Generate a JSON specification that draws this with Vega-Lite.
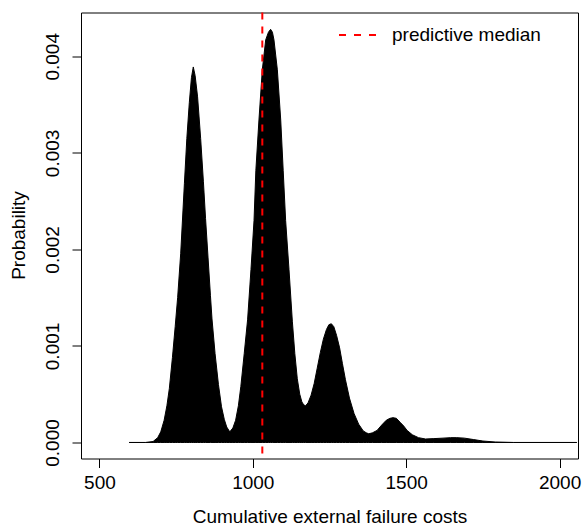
{
  "$schema": "https://vega.github.io/schema/vega-lite/v6.json",
  "width": 497,
  "height": 446,
  "autosize": {"type": "none"},
  "padding": {"left": 81, "top": 12.5, "right": 4, "bottom": 66.5},
  "background": "white",
  "config": {
    "view": {"stroke": "black", "strokeWidth": 1},
    "font": "Liberation Sans",
    "axis": {
      "domain": false,
      "grid": false,
      "tickColor": "black",
      "tickSize": 9,
      "labelFontSize": 19,
      "labelColor": "black",
      "titleFontSize": 19,
      "titleFontWeight": "normal",
      "titleColor": "black",
      "labelFlush": false,
      "labelOverlap": false
    }
  },
  "layer": [
    {
      "data": {
        "values": [
          {"cost": 597, "prob": 0},
          {"cost": 650, "prob": 0},
          {"cost": 675, "prob": 0.00001},
          {"cost": 690, "prob": 0.00005},
          {"cost": 700, "prob": 0.00011},
          {"cost": 711, "prob": 0.00023},
          {"cost": 720, "prob": 0.00038},
          {"cost": 728, "prob": 0.00056},
          {"cost": 738, "prob": 0.00088},
          {"cost": 747, "prob": 0.0012},
          {"cost": 755, "prob": 0.0015},
          {"cost": 765, "prob": 0.00196},
          {"cost": 777, "prob": 0.00268},
          {"cost": 785, "prob": 0.00315},
          {"cost": 793, "prob": 0.00352},
          {"cost": 800, "prob": 0.00378},
          {"cost": 806, "prob": 0.00389},
          {"cost": 812, "prob": 0.0038},
          {"cost": 820, "prob": 0.00358},
          {"cost": 830, "prob": 0.00315},
          {"cost": 839, "prob": 0.0027},
          {"cost": 846, "prob": 0.00232},
          {"cost": 854, "prob": 0.00192},
          {"cost": 862, "prob": 0.00152},
          {"cost": 867, "prob": 0.00128},
          {"cost": 877, "prob": 0.00092},
          {"cost": 888, "prob": 0.0006},
          {"cost": 898, "prob": 0.00037},
          {"cost": 907, "prob": 0.00024},
          {"cost": 915, "prob": 0.00016},
          {"cost": 925, "prob": 0.00011},
          {"cost": 935, "prob": 0.00015},
          {"cost": 944, "prob": 0.00023},
          {"cost": 953, "prob": 0.00038},
          {"cost": 961, "prob": 0.00058},
          {"cost": 972, "prob": 0.00092},
          {"cost": 983, "prob": 0.00127},
          {"cost": 994, "prob": 0.00179},
          {"cost": 1004, "prob": 0.0023},
          {"cost": 1010, "prob": 0.00282},
          {"cost": 1020, "prob": 0.00334},
          {"cost": 1031, "prob": 0.00386},
          {"cost": 1042, "prob": 0.00417},
          {"cost": 1051, "prob": 0.00425},
          {"cost": 1058, "prob": 0.00428},
          {"cost": 1064, "prob": 0.00425},
          {"cost": 1069, "prob": 0.00417},
          {"cost": 1080, "prob": 0.00386},
          {"cost": 1091, "prob": 0.00334},
          {"cost": 1099, "prob": 0.00282},
          {"cost": 1107, "prob": 0.0023},
          {"cost": 1118, "prob": 0.00179},
          {"cost": 1129, "prob": 0.00125},
          {"cost": 1137, "prob": 0.00092},
          {"cost": 1145, "prob": 0.00066},
          {"cost": 1153, "prob": 0.0005},
          {"cost": 1160, "prob": 0.00042},
          {"cost": 1166, "prob": 0.00039},
          {"cost": 1172, "prob": 0.00038},
          {"cost": 1180, "prob": 0.00041},
          {"cost": 1190, "prob": 0.00049},
          {"cost": 1200, "prob": 0.00061},
          {"cost": 1210, "prob": 0.00077},
          {"cost": 1220, "prob": 0.00093},
          {"cost": 1230, "prob": 0.00107},
          {"cost": 1240, "prob": 0.00117},
          {"cost": 1248, "prob": 0.00122},
          {"cost": 1256, "prob": 0.00123},
          {"cost": 1264, "prob": 0.0012},
          {"cost": 1273, "prob": 0.00111},
          {"cost": 1283, "prob": 0.00098},
          {"cost": 1292, "prob": 0.00082},
          {"cost": 1302, "prob": 0.00065},
          {"cost": 1315, "prob": 0.00046},
          {"cost": 1330, "prob": 0.0003},
          {"cost": 1345, "prob": 0.00019},
          {"cost": 1360, "prob": 0.00012},
          {"cost": 1370, "prob": 0.0001},
          {"cost": 1378, "prob": 0.00009},
          {"cost": 1390, "prob": 0.0001},
          {"cost": 1405, "prob": 0.000125},
          {"cost": 1420, "prob": 0.00018},
          {"cost": 1435, "prob": 0.00023},
          {"cost": 1447, "prob": 0.00025},
          {"cost": 1457, "prob": 0.000257},
          {"cost": 1468, "prob": 0.00025},
          {"cost": 1480, "prob": 0.00021},
          {"cost": 1492, "prob": 0.00017},
          {"cost": 1503, "prob": 0.000125},
          {"cost": 1520, "prob": 0.00008},
          {"cost": 1540, "prob": 0.00005},
          {"cost": 1563, "prob": 0.000036},
          {"cost": 1590, "prob": 0.00004},
          {"cost": 1620, "prob": 0.000045},
          {"cost": 1645, "prob": 0.00005},
          {"cost": 1665, "prob": 0.00005},
          {"cost": 1690, "prob": 0.000045},
          {"cost": 1720, "prob": 0.00003},
          {"cost": 1750, "prob": 0.000015},
          {"cost": 1790, "prob": 0.000005},
          {"cost": 1850, "prob": 0},
          {"cost": 2056, "prob": 0}
        ]
      },
      "mark": {"type": "area", "color": "black", "stroke": "black", "strokeWidth": 1, "clip": true},
      "encoding": {
        "x": {
          "field": "cost",
          "type": "quantitative",
          "scale": {"domain": [440, 2060], "nice": false, "zero": false},
          "axis": {
            "values": [500, 1000, 1500, 2000],
            "format": "d",
            "labelPadding": 6,
            "title": "Cumulative external failure costs",
            "titleBaseline": "alphabetic",
            "titleY": 64
          }
        },
        "y": {
          "field": "prob",
          "type": "quantitative",
          "scale": {"domain": [-0.000166, 0.004454], "nice": false, "zero": false},
          "axis": {
            "values": [0, 0.001, 0.002, 0.003, 0.004],
            "format": ".3f",
            "labelAngle": -90,
            "labelAlign": "center",
            "labelBaseline": "alphabetic",
            "labelPadding": 14,
            "title": "Probability",
            "titleAngle": -90,
            "titleBaseline": "alphabetic",
            "titleAlign": "center",
            "titleX": -56.5,
            "titleY": 222.5
          }
        },
        "y2": {"datum": 0}
      }
    },
    {
      "data": {"values": [{"median": 1031, "label": "predictive median"}]},
      "mark": {"type": "rule", "strokeDash": [7, 7], "strokeWidth": 2},
      "encoding": {
        "x": {"field": "median", "type": "quantitative"},
        "color": {
          "field": "label",
          "type": "nominal",
          "scale": {"range": ["#FF0000"]},
          "legend": {
            "title": null,
            "orient": "none",
            "legendX": 257,
            "legendY": 3,
            "padding": 0,
            "symbolType": "stroke",
            "symbolSize": 1369,
            "symbolStrokeWidth": 2,
            "symbolDash": [7, 8],
            "labelFontSize": 19,
            "labelColor": "black",
            "labelOffset": 15
          }
        }
      }
    }
  ]
}
